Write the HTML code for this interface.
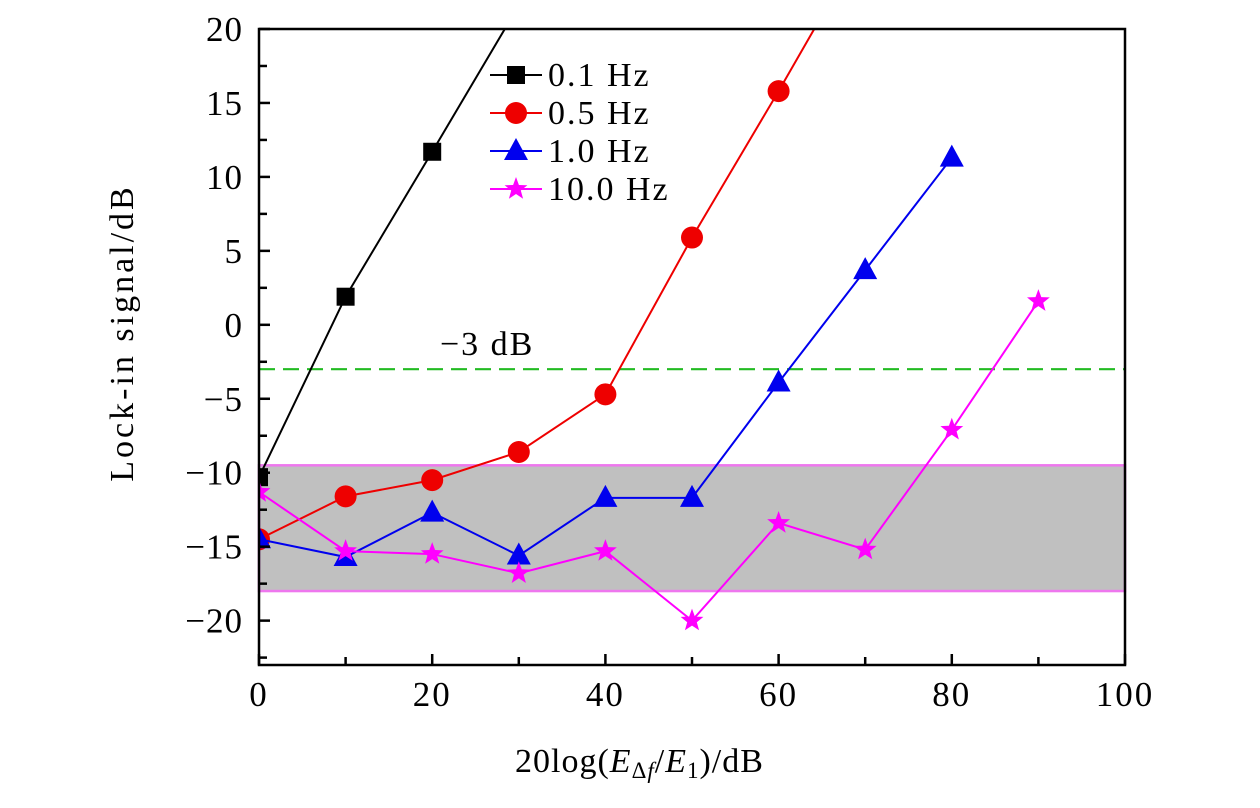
<!DOCTYPE html>
<html><head><meta charset="utf-8"><style>
body{margin:0;background:#fff}
svg text{font-family:"Liberation Serif",serif;fill:#000}
</style></head><body>
<svg id="c" width="1260" height="803" xmlns="http://www.w3.org/2000/svg">
</svg>
<script>
const xs=[0,10,20,30,40,50,60,70,80,90];
const sBlack=[-10.3,1.9,11.7,21.6];
const sRed=[-14.5,-11.6,-10.5,-8.6,-4.7,5.9,15.8,26];
const sBlue=[-14.5,-15.7,-12.7,-15.6,-11.7,-11.7,-3.9,3.7,11.3];
const sMag=[-11.3,-15.3,-15.5,-16.8,-15.3,-20,-13.4,-15.2,-7.1,1.6];
const xTicks=[0,20,40,60,80,100];
const yTicks=[20,15,10,5,0,-5,-10,-15,-20];
const band=[-9.5,-18];
const threshold=-3;
const legendLabels=["0.1 Hz","0.5 Hz","1.0 Hz","10.0 Hz"];
const L=259,R=1125,T=29,B=665,xmin=0,xmax=100,ymin=-23,ymax=20;
const X=v=>L+(v-xmin)/(xmax-xmin)*(R-L);
const Y=v=>T+(ymax-v)/(ymax-ymin)*(B-T);
const NS="http://www.w3.org/2000/svg";
const svg=document.getElementById('c');
function mk(tag,at,parent){const e=document.createElementNS(NS,tag);for(const k in at)e.setAttribute(k,at[k]);(parent||svg).appendChild(e);return e;}
const defs=mk('defs',{});
const cp=mk('clipPath',{id:'clip'},defs);mk('rect',{x:L,y:T,width:R-L,height:B-T},cp);
let e=mk('rect',{x:L,y:Y(band[0]),width:R-L,height:Y(band[1])-Y(band[0]),fill:'#c0c0c0',stroke:'#ee77ee','stroke-width':2.5});


e=mk('line',{x1:L,x2:R,y1:Y(threshold),y2:Y(threshold),stroke:'#22bb22','stroke-width':2.2,'stroke-dasharray':'16,8'});


e=mk('text',{x:440,y:355,'font-size':34,'letter-spacing':2});e.textContent='\u22123 dB';


function marker(kind,cx,cy,col,g){
 if(kind==='sq')return mk('rect',{x:cx-9,y:cy-9,width:18,height:18,fill:col},g);
 if(kind==='ci')return mk('circle',{cx:cx,cy:cy,r:11,fill:col},g);
 if(kind==='tr')return mk('polygon',{points:`${cx},${cy-13} ${cx-12},${cy+9} ${cx+12},${cy+9}`,fill:col},g);
 let p=[];for(let i=0;i<10;i++){const r=i%2?5:12,a=-Math.PI/2+i*Math.PI/5;p.push((cx+r*Math.cos(a)).toFixed(1)+','+(cy+r*Math.sin(a)).toFixed(1));}
 return mk('polygon',{points:p.join(' '),fill:col},g);
}
const series=[[sBlack,'#000','sq','series-0.1hz'],[sRed,'#ee0000','ci','series-0.5hz'],[sBlue,'#0000ee','tr','series-1.0hz'],[sMag,'#ff00ff','st','series-10hz']];
series.forEach(([d,col,k,nm])=>{
 const g=mk('g',{'clip-path':'url(#clip)'});
 
 
 mk('polyline',{points:d.map((v,i)=>X(xs[i])+','+Y(v)).join(' '),fill:'none',stroke:col,'stroke-width':2},g);
 d.forEach((v,i)=>{const m=marker(k,X(xs[i]),Y(v),col,g);
  
  });
});
e=mk('rect',{x:L,y:T,width:R-L,height:B-T,fill:'none',stroke:'#000','stroke-width':2.5});


for(let v=0;v<=100;v+=10){mk('line',{x1:X(v),x2:X(v),y1:B,y2:B-(v%20?8:11),stroke:'#000','stroke-width':2.5});}
xTicks.forEach(v=>{const s=String(v);e=mk('text',{x:X(v),y:706,'font-size':35,'text-anchor':'middle','letter-spacing':2});e.textContent=s;
 
 });
for(let v=-22.5;v<=20;v+=2.5){mk('line',{x1:L,x2:L+(v%5?8:11),y1:Y(v),y2:Y(v),stroke:'#000','stroke-width':2.5});}
yTicks.forEach(v=>{const s=v<0?'\u2212'+(-v):String(v);e=mk('text',{x:243,y:Y(v)+12,'font-size':35,'text-anchor':'end','letter-spacing':1});e.textContent=s;
 
 });
e=mk('text',{x:515,y:772,'font-size':34,'letter-spacing':1});
e.innerHTML='20log(<tspan font-style="italic">E</tspan><tspan font-size="23" dy="6">Δ<tspan font-style="italic">f</tspan></tspan><tspan dy="-6">/</tspan><tspan font-style="italic">E</tspan><tspan font-size="23" dy="6">1</tspan><tspan dy="-6">)/dB</tspan>';


e=mk('text',{x:0,y:0,'font-size':34,'text-anchor':'middle','letter-spacing':3,transform:`translate(133,333) rotate(-90)`});e.textContent='Lock-in signal/dB';


series.forEach(([d,col,k],i)=>{
 const g=mk('g',{});
 
 
 const y=75+i*38;
 mk('line',{x1:490,x2:542,y1:y,y2:y,stroke:col,'stroke-width':2},g);
 marker(k,516,y,col,g);
 const lab=legendLabels[i];
 const t=mk('text',{x:548,y:y+11,'font-size':34,'letter-spacing':2},g);t.textContent=lab;
});
</script>
</body></html>
